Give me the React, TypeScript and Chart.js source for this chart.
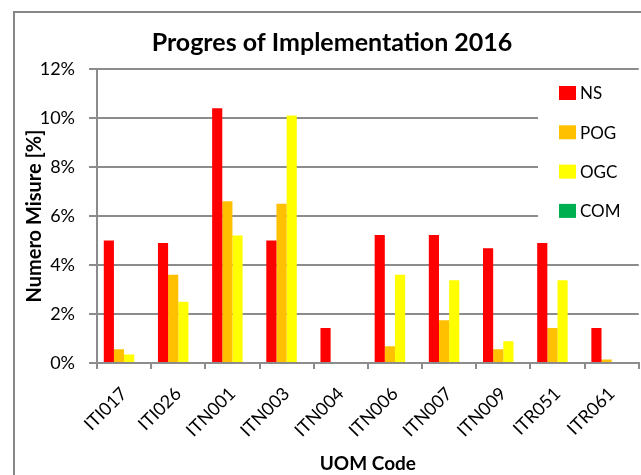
import React, { useEffect, useRef } from "react";
import { Chart, registerables } from "chart.js";

Chart.register(...registerables);

const categories = ["ITI017", "ITI026", "ITN001", "ITN003", "ITN004", "ITN006", "ITN007", "ITN009", "ITR051", "ITR061"];
const nsValues = [5.0, 4.9, 10.4, 5.0, 1.43, 5.22, 5.22, 4.68, 4.9, 1.43];
const pogValues = [0.56, 3.6, 6.6, 6.5, 0, 0.68, 1.75, 0.56, 1.43, 0.14];
const ogcValues = [0.35, 2.5, 5.2, 10.1, 0, 3.6, 3.38, 0.89, 3.38, 0];
const comValues = [0, 0, 0, 0, 0, 0, 0, 0, 0, 0];
const seriesNames = ["NS", "POG", "OGC", "COM"];
const seriesColors = ["#FF0000", "#FFC000", "#FFFF00", "#00B050"];
const titleText = "Progres of Implementation 2016";
const yTitle = "Numero Misure [%]";
const xTitle = "UOM Code";

const FONT = "Lato, 'Open Sans', sans-serif";

export default function App() {
  const ref = useRef<HTMLCanvasElement | null>(null);
  useEffect(() => {
    if (!ref.current) return;
    const decor = {
      id: "decor",
      beforeDraw(chart: any) {
        const ctx = chart.ctx;
        ctx.save();
        ctx.fillStyle = "#ffffff";
        ctx.fillRect(0, 0, chart.width, chart.height);
        ctx.strokeStyle = "#868686";
        ctx.lineWidth = 2;
        ctx.strokeRect(14, 12, chart.width + 20, chart.height + 20);
        ctx.fillStyle = "#000";
        ctx.font = "bold 25px " + FONT;
        ctx.textAlign = "center";
        ctx.textBaseline = "middle";
        ctx.fillText(titleText, 332, 43);
        ctx.restore();
      },
      afterDraw(chart: any) {
        const ctx = chart.ctx;
        ctx.save();
        ctx.fillStyle = "#ffffff";
        ctx.fillRect(538, 76, 103, 160);
        ctx.font = "17px " + FONT;
        ctx.textAlign = "left";
        ctx.textBaseline = "middle";
        seriesNames.forEach((n, i) => {
          const cy = 93 + i * 39.3;
          ctx.fillStyle = seriesColors[i];
          ctx.fillRect(559, cy - 7, 17, 14);
          ctx.fillStyle = "#000";
          ctx.fillText(n, 580, cy + 1);
        });
        ctx.restore();
      },
    };
    const vals = [nsValues, pogValues, ogcValues, comValues];
    const chart = new Chart(ref.current, {
      type: "bar",
      data: {
        labels: categories,
        datasets: seriesNames.map((n, i) => ({
          label: n,
          data: vals[i],
          backgroundColor: seriesColors[i],
          borderWidth: 0,
          categoryPercentage: 0.75,
          barPercentage: 1.0,
        })),
      },
      options: {
        responsive: false,
        animation: false,
        layout: { padding: { left: 13, top: 69, right: 1, bottom: 0 } },
        plugins: {
          legend: { display: false },
          title: { display: false },
          tooltip: { enabled: false },
        },
        scales: {
          x: {
            grid: { display: true, drawOnChartArea: false, color: "#8c8c8c", lineWidth: 2, tickLength: 6, offset: true },
            border: { color: "#8c8c8c", width: 2 },
            ticks: { color: "#000", font: { family: FONT, size: 18 }, minRotation: 45, maxRotation: 45, padding: 14 },
            title: { display: true, text: xTitle, color: "#000", font: { family: FONT, size: 19, weight: "bold" }, padding: { top: 0, bottom: 0 } },
            afterFit: (s: any) => { s.height = 112; },
          },
          y: {
            min: 0,
            max: 12,
            ticks: { stepSize: 2, color: "#000", font: { family: FONT, size: 18 }, padding: 14, callback: (v: any) => v + "%" },
            grid: { color: "#8c8c8c", lineWidth: 2, tickLength: 8 },
            border: { color: "#8c8c8c", width: 2 },
            title: { display: true, text: yTitle, color: "#000", font: { family: FONT, size: 20, weight: "bold" }, padding: { top: 10, bottom: 0 } },
            afterFit: (s: any) => { s.width = 84; },
          },
        },
      },
      plugins: [decor],
    } as any);
    return () => chart.destroy();
  }, []);
  return (
    <div style={{ position: "absolute", left: 0, top: 0, width: 641, height: 475 }}>
      <canvas ref={ref} width={641} height={475} />
    </div>
  );
}
